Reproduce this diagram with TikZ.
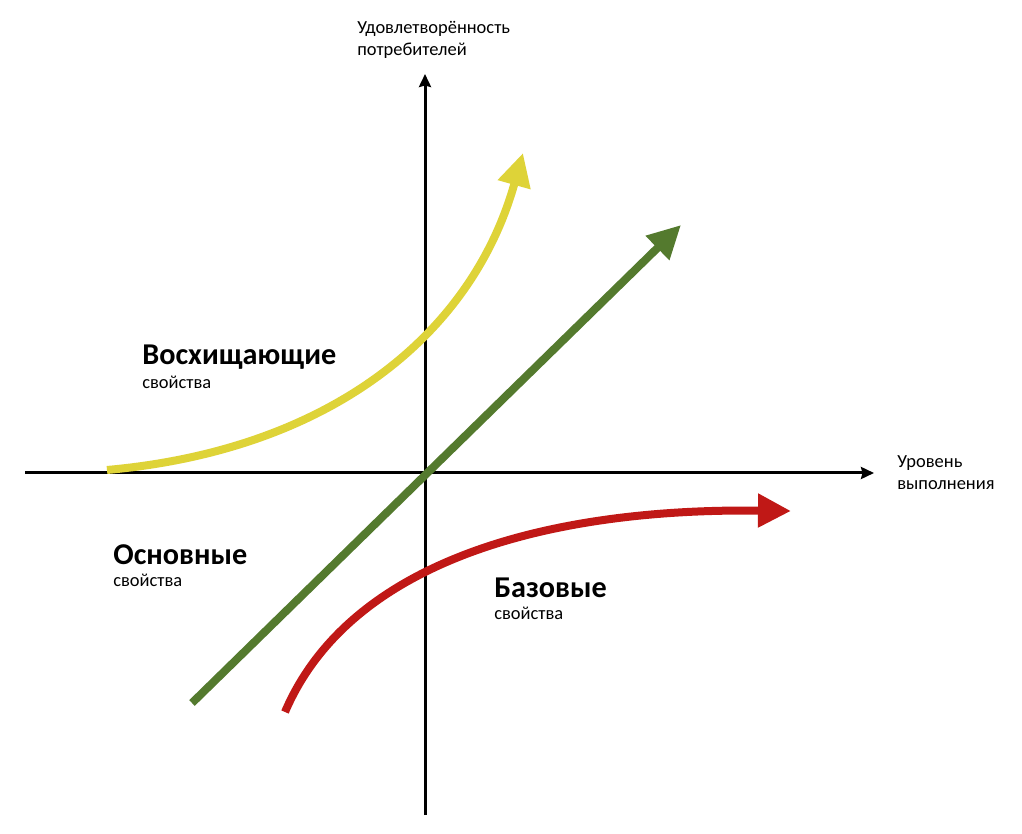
\documentclass[tikz,border=0pt]{standalone}
\usepackage{fontspec}
\setmainfont{Carlito}
\usepackage{tikz}
\usetikzlibrary{arrows.meta, positioning}
\definecolor{delight}{RGB}{222,211,56}
\definecolor{perform}{RGB}{84,122,46}
\definecolor{basic}{RGB}{192,24,22}

\begin{document}
\begin{tikzpicture}[x=0.02cm, y=-0.02cm,
  axis/.style={-{Stealth[length=0.26cm, width=0.24cm, inset=0.03cm]}, line width=0.06cm, black},
  curve/.style={-{Triangle[length=0.66cm, width=0.64cm]}, line width=0.16cm},
  axislabel/.style={font=\fontsize{10.5}{12.7}\selectfont, align=left, inner sep=0pt},
  kind/.style={font=\fontsize{17.2}{20}\selectfont\bfseries, inner sep=0pt, anchor=west},
  props/.style={font=\fontsize{10.5}{13}\selectfont, inner sep=0pt, anchor=west}]
\useasboundingbox (0,0) rectangle (1022,834);
\coordinate (o) at (425,473);
\coordinate (xl) at (25,473);
\coordinate (xr) at (874,473);
\coordinate (yb) at (425,815);
\coordinate (yt) at (425,74);
\draw[axis] (xl) -- (xr);
\draw[axis] (yb) -- (yt);
\node[axislabel, anchor=north west] (ylab) at (357,21) {Удовлетворённость\\потребителей};
\node[axislabel, anchor=north west] (xlab) at (897,455) {Уровень\\выполнения};
\coordinate (y0) at (107,470);
\coordinate (y1) at (523,153);
\draw[curve, delight] (y0) .. controls (330,450) and (472,335) .. (y1);
\coordinate (g0) at (192,703);
\coordinate (g1) at (681,225);
\draw[curve, perform] (g0) -- (g1);
\coordinate (r0) at (285,712);
\coordinate (r1) at (791,511);
\draw[curve, basic] (r0) .. controls (350,560) and (550,508) .. (r1);
\node[kind] (wow) at (142,357) {Восхищающие};
\node[props] (wowp) at (142,382) {свойства};
\node[kind] (main) at (113,555) {Основные};
\node[props] (mainp) at (113,580) {свойства};
\node[kind] (base) at (494,588) {Базовые};
\node[props] (basep) at (494,613) {свойства};
\end{tikzpicture}
\end{document}
